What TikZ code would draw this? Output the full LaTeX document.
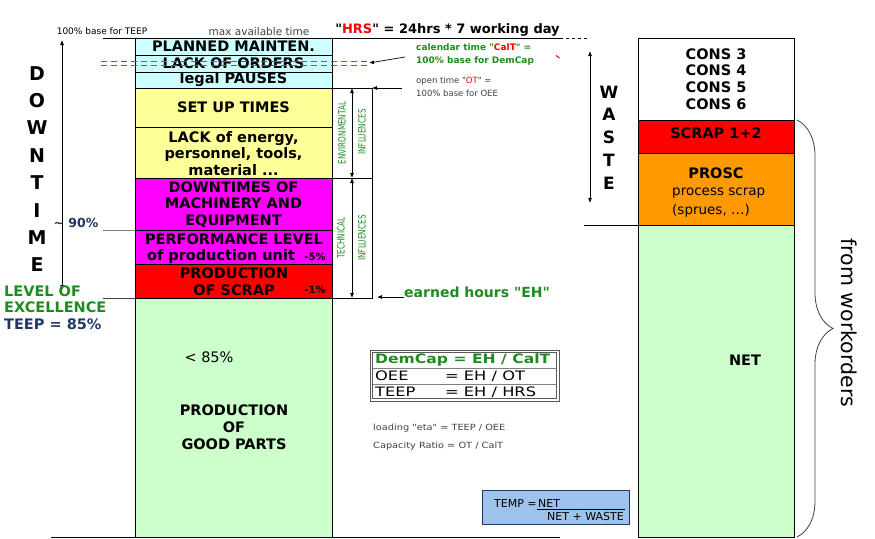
\documentclass[tikz,border=0pt]{standalone}
\usepackage{fontspec}
\usepackage{graphicx}
\setmainfont{DejaVu Sans}[Ligatures=TeXOff]
\usetikzlibrary{arrows.meta,decorations.pathreplacing}

\definecolor{planblue}{HTML}{CCFFFF}
\definecolor{setyellow}{HTML}{FFFF99}
\definecolor{downmag}{HTML}{FF00FF}
\definecolor{scrapred}{HTML}{FF0000}
\definecolor{goodgreen}{HTML}{CCFFCC}
\definecolor{proscorange}{HTML}{FF9900}
\definecolor{infgreen}{HTML}{1E8B1E}
\definecolor{navytext}{HTML}{1F3864}
\definecolor{tempblue}{HTML}{9DC3EC}
\definecolor{labelgray}{HTML}{404040}

\newcommand{\setfs}[2]{\fontsize{#1}{#2}\selectfont}
\newcommand{\widen}[2]{\scalebox{#1}[1]{#2}}

\tikzset{
  colbox/.style={draw=black, line width=1pt},
  guide/.style={draw=black, line width=0.7pt},
  pointer/.style={guide, -{Latex[length=5pt,width=4pt]}},
  bothway/.style={guide, {Latex[length=5pt,width=4pt]}-{Latex[length=5pt,width=4pt]}},
  colbold/.style={font=\setfs{14.5}{16.5}\bfseries, align=center, inner sep=0pt},
  rightbold/.style={font=\setfs{14.5}{16.7}\bfseries, align=center, inner sep=0pt},
  plainlbl/.style={inner sep=0pt, anchor=west},
  inflbl/.style={rotate=90, font=\setfs{10}{12}, text=infgreen, inner sep=0pt},
}

\begin{document}
\begin{tikzpicture}[x=1pt,y=-1pt]
\useasboundingbox (0,0) rectangle (875,538);

% left column
\draw [colbox, fill=planblue] (135,38) rectangle (332,55);
\draw [colbox, fill=planblue] (135,55) rectangle (332,72);
\draw [colbox, fill=planblue] (135,72) rectangle (332,88);
\draw [colbox, fill=setyellow] (135,88) rectangle (332,127);
\draw [colbox, fill=setyellow] (135,127) rectangle (332,178);
\draw [colbox, fill=downmag] (135,178) rectangle (332,230);
\draw [colbox, fill=downmag] (135,230) rectangle (332,264);
\draw [colbox, fill=scrapred] (135,264) rectangle (332,298);
\draw [colbox, fill=goodgreen] (135,298) rectangle (332,537);

\node (maint) at (233.5,46.5) [colbold] {PLANNED MAINTEN.};
\node (orders) at (233.5,63.5) [colbold] {LACK OF ORDERS};
\node (pauses) at (233.5,80) [colbold] {legal PAUSES};
\node (setup) at (233.5,107.5) [colbold] {SET UP TIMES};
\node (lack) at (233.5,153.5) [colbold] {LACK of energy,\\personnel, tools,\\material ...};
\node (machine) at (233.5,204.5) [colbold] {DOWNTIMES OF\\MACHINERY AND\\EQUIPMENT};
\node (perf) at (234,239) [colbold] {PERFORMANCE LEVEL};
\node (unit) at (221,256) [colbold] {of production unit};
\node (minusfive) at (315,257) [colbold, font=\setfs{10}{12}\bfseries] {-5\%};
\node (scrap) at (234,281.5) [colbold] {PRODUCTION\\OF SCRAP};
\node (minusone) at (315,290) [colbold, font=\setfs{10}{12}\bfseries] {-1\%};
\node (below85) at (209,357) [inner sep=0pt, font=\setfs{14.5}{16}] {< 85\%};
\node (good) at (234,427) [colbold, font=\setfs{14.5}{17}\bfseries] {PRODUCTION\\OF\\GOOD PARTS};

% lines round the column
\draw [guide] (103,38) -- (560,38);
\draw [guide, dashed] (560,38) -- (590,38);
\draw [guide] (51,537) -- (560,537);
\draw [guide, draw=gray] (103,230) -- (135,230);
\draw [guide, draw=darkgray] (103,298) -- (135,298);

% top labels
\node (teep100) at (102,31) [inner sep=0pt, font=\setfs{9}{11}] {100\% base for TEEP};
\node (maxavail) at (259,32) [inner sep=0pt, text=labelgray, font=\setfs{10.5}{12}] {max available time};
\node (hrs) at (447.5,30) [inner sep=0pt, font=\setfs{13}{15}\bfseries] {"\textcolor{scrapred}{HRS}" = 24hrs * 7 working day};

% downtime
\draw [bothway] (62,40) -- (62,290);
\node (downtime) at (37,169) [inner sep=0pt, align=center, font=\setfs{19}{27.4}\bfseries] {D\\O\\W\\N\\T\\I\\M\\E};
\node (ninety) at (76,223) [inner sep=0pt, text=navytext, font=\setfs{12.5}{14}\bfseries] {\textasciitilde{} 90\%};
\node (excel) at (4,307.5) [plainlbl, align=left, text=infgreen, font=\setfs{14.5}{16.5}\bfseries] {LEVEL OF\\EXCELLENCE\\\textcolor{navytext}{TEEP = 85\%}};

% influences
\draw [guide] (332,88) -- (372,88) -- (372,298) -- (332,298);
\draw [guide] (332,178) -- (372,178);
\draw [bothway] (352,88) -- (352,178);
\draw [bothway] (352,178) -- (352,298);
\node (env) at (342,133) [inflbl] {\widen{0.73}{ENVIRONMENTAL}};
\node (envinf) at (362,132) [inflbl] {\widen{0.73}{INFLUENCES}};
\node (tech) at (341,238) [inflbl] {\widen{0.73}{TECHNICAL}};
\node (techinf) at (362,238) [inflbl] {\widen{0.73}{INFLUENCES}};

% calendar / open time
\node (calt) at (416,47) [plainlbl, text=infgreen, font=\setfs{9}{11}\bfseries] {calendar time "\textcolor{scrapred}{CalT}" =};
\node (demcapbase) at (416,61.5) [plainlbl, text=infgreen, font=\setfs{9}{11}\bfseries] {100\% base for DemCap};
\node (otlbl) at (416,81) [plainlbl, text=labelgray, font=\setfs{8.5}{10}] {open time "\textcolor{scrapred}{OT}" =};
\node (oeebase) at (416,93.5) [plainlbl, text=labelgray, font=\setfs{8.5}{10}] {100\% base for OEE};
\coordinate (caltfrom) at (405,57);
\coordinate (caltto) at (369,63);
\coordinate (otfrom) at (402,88);
\coordinate (otto) at (372,88);
\draw [pointer] (caltfrom) -- (caltto);
\draw [pointer] (otfrom) -- (otto);
\draw [red, line width=1pt] (556,55.5) -- (559.5,58);

% red double dashes through LACK OF ORDERS
\foreach \ry in {61.5,65.5}
  \foreach \rx in {101,111,...,361}
    \fill [red!85!white] (\rx,\ry-0.9) rectangle (\rx+6,\ry+0.9);

% earned hours
\node (eh) at (404,292) [plainlbl, text=infgreen, font=\setfs{14}{16}\bfseries] {earned hours "EH"};
\coordinate (ehto) at (377,297);
\draw [pointer] (eh.west |- ehto) -- (ehto);

% formulas
\draw [draw=gray!70!black, line width=0.8pt] (370,350) rectangle (559,401);
\draw [draw=gray!70!black, line width=0.8pt] (372.5,352.5) rectangle (556.5,398.5);
\draw [guide, draw=gray, line width=0.5pt] (372.5,368) -- (556.5,368);
\draw [guide, draw=gray, line width=0.5pt] (372.5,384) -- (556.5,384);
\node (demcap) at (375,359.5) [plainlbl, text=infgreen, font=\setfs{13}{15}\bfseries] {\widen{1.2}{DemCap = EH / CalT}};
\node (oee) at (375,376) [plainlbl, font=\setfs{13}{15}] {\widen{1.25}{OEE}};
\node (oeeeq) at (445,376) [plainlbl, font=\setfs{13}{15}] {\widen{1.25}{= EH / OT}};
\node (teep) at (375,392) [plainlbl, font=\setfs{13}{15}] {\widen{1.25}{TEEP}};
\node (teepeq) at (445,392) [plainlbl, font=\setfs{13}{15}] {\widen{1.25}{= EH / HRS}};
\node (loading) at (373,428) [plainlbl, text=labelgray, font=\setfs{8.5}{10}] {\widen{1.15}{loading "eta" = TEEP / OEE}};
\node (capratio) at (373,446.5) [plainlbl, text=labelgray, font=\setfs{8.5}{10}] {\widen{1.15}{Capacity Ratio = OT / CalT}};

% TEMP
\draw [fill=tempblue, draw=navytext, line width=1pt] (482,490) rectangle (629,524);
\node (temp) at (494,503.5) [plainlbl, font=\setfs{11}{13}] {TEMP =};
\node (tempnet) at (538,503.5) [plainlbl, font=\setfs{11}{13}] {NET};
\draw [guide] (537,509) -- (625,509);
\node (netwaste) at (547,516.5) [plainlbl, font=\setfs{11}{13}] {NET + WASTE};

% right column
\draw [colbox, fill=white] (638,38) rectangle (794,120);
\draw [colbox, fill=scrapred] (638,120) rectangle (794,153);
\draw [colbox, fill=proscorange] (638,153) rectangle (794,225);
\draw [colbox, fill=goodgreen] (638,225) rectangle (794,537);
\draw [guide] (584,225) -- (638,225);

\node (cons) at (716,79) [rightbold] {CONS 3\\CONS 4\\CONS 5\\CONS 6};
\node (scrap12) at (716,133.5) [rightbold] {SCRAP 1+2};
\node (prosc) at (716,173) [rightbold] {PROSC};
\node (procscrap) at (672,193) [plainlbl, font=\setfs{13.5}{15}] {process scrap};
\node (sprues) at (672,211) [plainlbl, font=\setfs{13.5}{15}] {(sprues, …)};
\node (net) at (745,360) [rightbold] {NET};

\draw [bothway] (590,51) -- (590,203);
\node (waste) at (609,137.5) [inner sep=0pt, align=center, font=\setfs{17}{22.8}\bfseries] {W\\A\\S\\T\\E};

% workorders
\draw [draw=labelgray, line width=0.8pt, decorate, decoration={brace, amplitude=36pt}] (797,120) -- (797,537);
\node (workorders) at (849,323) [rotate=-90, inner sep=0pt, font=\setfs{20.5}{24}] {from workorders};

\end{tikzpicture}
\end{document}
